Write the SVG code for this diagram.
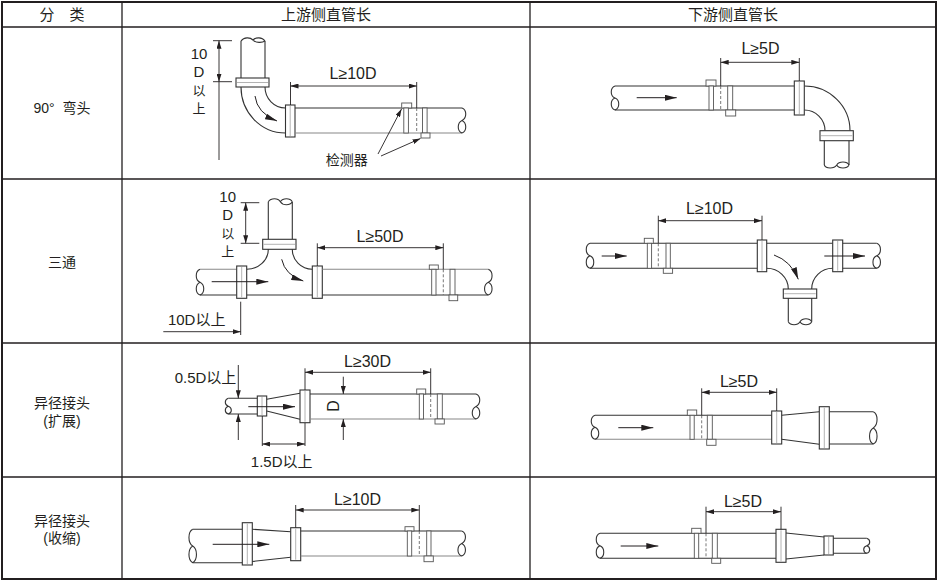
<svg xmlns="http://www.w3.org/2000/svg" width="939" height="582" viewBox="0 0 939 582">
<defs>
<style>
.tb{fill:none;stroke:#231f20;stroke-width:1.3}
.tbo{fill:none;stroke:#231f20;stroke-width:2}
.p{fill:none;stroke:#333;stroke-width:1.1}
.pg{fill:none;stroke:#888;stroke-width:1.1}
.fl{fill:#fff;stroke:#333;stroke-width:1.1}
.fi{fill:none;stroke:#a0a0a0;stroke-width:0.8}
.st{fill:#fff;stroke:#555;stroke-width:0.9}
.dash{fill:none;stroke:#555;stroke-width:0.8;stroke-dasharray:3 2}
.d{fill:none;stroke:#231f20;stroke-width:0.9}
.da{fill:none;stroke:#231f20;stroke-width:0.9;marker-start:url(#ar);marker-end:url(#ar)}
.de{fill:none;stroke:#231f20;stroke-width:0.9;marker-end:url(#ar)}
.fa{fill:none;stroke:#231f20;stroke-width:1;marker-end:url(#fa)}
text{font-family:"Liberation Sans","Noto Sans CJK SC",sans-serif;fill:#231f20;text-anchor:middle}
.zh{font-family:"Noto Sans CJK SC","Liberation Sans",sans-serif}
.h{font-size:15px}
.c{font-size:14px}
.v{font-size:15px}
.vz{font-size:13px}
.m{font-size:16px}
</style>
<marker id="ar" viewBox="0 0 8 5" refX="8" refY="2.5" markerWidth="8" markerHeight="5" markerUnits="userSpaceOnUse" orient="auto-start-reverse"><path d="M0,0 L8,2.5 L0,5 z" fill="#231f20"/></marker>
<marker id="fa" viewBox="0 0 12 6" refX="12" refY="3" markerWidth="12" markerHeight="6" markerUnits="userSpaceOnUse" orient="auto"><path d="M0,0 L12,3 L0,6 z" fill="#231f20"/></marker>
</defs>
<rect width="939" height="582" fill="#fff"/>

<g id="table">
<rect class="tbo" x="2" y="2" width="934" height="577"/>
<path class="tb" d="M2,27 H936 M2,179 H936 M2,343 H936 M2,477 H936 M122,2 V579 M530,2 V579"/>
<text class="h zh" x="62" y="20">分　类</text>
<text class="h zh" x="326" y="20">上游侧直管长</text>
<text class="h zh" x="733" y="20">下游侧直管长</text>
<text class="c" x="62" y="112.5">90°&#160;&#160;弯头</text>
<text class="c zh" x="62" y="267">三通</text>
<text class="c zh" x="62" y="408">异径接头</text>
<text class="c" x="62" y="426">(扩展)</text>
<text class="c zh" x="62" y="526">异径接头</text>
<text class="c" x="62" y="543">(收缩)</text>
</g>

<g id="elbow-up">
<path class="p" d="M241,78 V41 M265,41 V78"/>
<path class="p" d="M241,41 C244,37 250,37 253,40 C256,43 262,43 265,41 M253,40 C256,37 262,37 265,41"/>
<path class="p" d="M241,87 A44.5,46 0 0 0 285.5,133 M265,87 A20.5,21 0 0 0 285.5,108"/>
<rect class="fl" x="236" y="78" width="33" height="9"/><path class="fi" d="M237,82.5 H268"/>
<rect class="fl" x="285.5" y="105" width="9.5" height="32"/><path class="fi" d="M290.2,106 V136"/>
<path class="p" d="M295,108 H462"/><path class="pg" d="M295,133 H462"/>
<path class="p" d="M462,108 C467,110 467,118 462,120.5 C457,123 457,131 462,133 M462,120.5 C467,123 467,131 462,133"/>
<rect class="st" x="401.7" y="103" width="10" height="5"/>
<rect class="st" x="403.8" y="108" width="4.6" height="25"/>
<path class="dash" d="M416.7,108 V133"/>
<rect class="st" x="422.5" y="108" width="4.6" height="25"/>
<rect class="st" x="421" y="133" width="9" height="5"/>
<text class="c zh" x="346.7" y="165">检测器</text>
</g>

<g id="elbow-down">
<path class="p" d="M615,86 H794.3 M615,110 H794.3"/>
<path class="p" d="M615,86 C610,88 610,96 615,98 C620,100 620,108 615,110 M615,98 C610,100 610,108 615,110"/>
<rect class="st" x="706" y="80" width="10" height="6"/>
<rect class="st" x="709" y="86" width="4.5" height="24"/>
<path class="dash" d="M720.7,86 V110"/>
<rect class="st" x="727.7" y="86" width="5" height="24"/>
<rect class="st" x="725.7" y="110" width="10" height="6"/>
<path class="p" d="M804.3,86 A45.7,44.7 0 0 1 850,130.7 M804.3,110 A20.7,20.7 0 0 1 825,130.7"/>
<rect class="fl" x="794.3" y="81" width="10" height="34"/><path class="fi" d="M799.3,82 V114"/>
<rect class="fl" x="820" y="130.7" width="33.3" height="10"/><path class="fi" d="M821,135.7 H852.3"/>
<path class="p" d="M824.3,140.7 V165 M849,140.7 V165"/>
<path class="p" d="M824.3,165 C826,169 834,169 836.7,165 C839,161 847,161 849,165 M836.7,165 C839,169 847,169 849,165"/>
</g>

<g id="tee-up">
<path class="p" d="M268.3,239.3 V201.7 M292.3,201.7 V239.3"/>
<path class="p" d="M268.3,201.7 C271,197.7 278,197.7 280.3,201.7 C283,205.7 290,205.7 292.3,201.7 M280.3,201.7 C283,197.7 290,197.7 292.3,201.7"/>
<rect class="fl" x="262.7" y="239.3" width="33.3" height="10"/><path class="fi" d="M263.7,244.3 H295"/>
<path class="pg" d="M200,269.3 H236.7"/><path class="p" d="M200,295 H236.7"/>
<path class="p" d="M200,269.3 C195,271.3 195,280 200,282.2 C205,284.5 205,293 200,295 M200,282.2 C195,284.5 195,293 200,295"/>
<path class="p" d="M246.7,269.3 A21.6,20 0 0 0 268.3,249.3 M292.3,249.3 A20,20 0 0 0 312.3,269.3 M246.7,295 H312.3"/>
<rect class="fl" x="236.7" y="266" width="10" height="32.3"/><path class="fi" d="M241.7,267 V297.3"/>
<rect class="fl" x="312.3" y="266" width="10" height="32.3"/><path class="fi" d="M317.3,267 V297.3"/>
<path class="pg" d="M322.3,269.3 H488.3"/><path class="p" d="M322.3,295 H488.3"/>
<path class="p" d="M488.3,269.3 C493.3,271.3 493.3,280 488.3,282.2 C483.3,284.5 483.3,293 488.3,295 M488.3,282.2 C493.3,284.5 493.3,293 488.3,295"/>
<rect class="st" x="429.3" y="265" width="9" height="4.3"/>
<rect class="st" x="431.7" y="269.3" width="4.3" height="25.7"/>
<path class="dash" d="M443.3,269.3 V295"/>
<rect class="st" x="450" y="269.3" width="5" height="25.7"/>
<rect class="st" x="449" y="295" width="8.7" height="5.7"/>
</g>

<g id="tee-down">
<path class="p" d="M590,243.3 H757.3 M590,268.3 H757.3"/>
<path class="p" d="M590,243.3 C585,245.3 585,253.5 590,255.8 C595,258 595,266.3 590,268.3 M590,255.8 C585,258 585,266.3 590,268.3"/>
<rect class="st" x="644.3" y="238.3" width="9" height="5"/>
<rect class="st" x="647.3" y="243.3" width="4.3" height="25"/>
<path class="dash" d="M658.3,243.3 V268.3"/>
<rect class="st" x="666" y="243.3" width="4.3" height="25"/>
<rect class="st" x="663.3" y="268.3" width="9.3" height="5"/>
<path class="p" d="M766.7,243.3 H832.7 M766.7,268.3 A21.6,20.7 0 0 1 788.3,289 M832.7,268.3 A21,20.7 0 0 0 811.7,289"/>
<rect class="fl" x="757.3" y="240" width="9.4" height="31.7"/><path class="fi" d="M762,241 V270.7"/>
<rect class="fl" x="783.3" y="289" width="33.4" height="9.3"/><path class="fi" d="M784.3,293.7 H815.7"/>
<path class="p" d="M788.3,298.3 V321.7 M811.7,298.3 V321.7"/>
<path class="p" d="M788.3,321.7 C790.5,325.7 797.5,325.7 800,321.7 C802.5,317.7 809.5,317.7 811.7,321.7 M800,321.7 C802.5,325.7 809.5,325.7 811.7,321.7"/>
<rect class="fl" x="832.7" y="240" width="10" height="31.7"/><path class="fi" d="M837.7,241 V270.7"/>
<path class="p" d="M842.7,243.3 H876.7 M842.7,268.3 H876.7"/>
<path class="p" d="M876.7,243.3 C881.7,245.3 881.7,253.5 876.7,255.8 C871.7,258 871.7,266.3 876.7,268.3 M876.7,255.8 C881.7,258 881.7,266.3 876.7,268.3"/>
</g>

<g id="expander-up">
<path class="p" d="M228.3,398.3 H257.3 M228.3,414 H257.3"/>
<path class="p" d="M228.3,398.3 C224.3,399.5 224.3,405 228.3,406.2 C232.3,407.5 232.3,413 228.3,414 M228.3,406.2 C224.3,407.5 224.3,413 228.3,414"/>
<rect class="fl" x="257.3" y="396" width="9.4" height="20"/><path class="fi" d="M262,397 V415"/>
<path class="p" d="M266.7,399.3 L300,393.3 M266.7,411 L300,419.3"/>
<rect class="fl" x="300" y="390" width="10" height="32.7"/><path class="fi" d="M305,391 V421.7"/>
<path class="p" d="M310,394 H476"/><path class="pg" d="M310,419 H476"/>
<path class="p" d="M476,394 C481,396 481,404 476,406.5 C471,409 471,417 476,419 M476,406.5 C481,409 481,417 476,419"/>
<rect class="st" x="416.7" y="389" width="9" height="5"/>
<rect class="st" x="419.3" y="394" width="4.2" height="25"/>
<path class="dash" d="M430.7,394 V419"/>
<rect class="st" x="437.3" y="394" width="5" height="25"/>
<rect class="st" x="435" y="419" width="9.3" height="5"/>
</g>

<g id="expander-down">
<path class="p" d="M595,415.3 H771.7"/><path class="pg" d="M595,439.3 H771.7"/>
<path class="p" d="M595,415.3 C590,417.3 590,425 595,427.3 C600,429.6 600,437.3 595,439.3 M595,427.3 C590,429.6 590,437.3 595,439.3"/>
<rect class="st" x="687.3" y="410" width="9.4" height="5.3"/>
<rect class="st" x="690" y="415.3" width="4.2" height="24"/>
<path class="dash" d="M701.7,415.3 V439.3"/>
<rect class="st" x="707.3" y="415.3" width="5" height="24"/>
<rect class="st" x="706.7" y="439.3" width="9.3" height="6"/>
<rect class="fl" x="771.7" y="411" width="10" height="33"/><path class="fi" d="M776.7,412 V443"/>
<path class="p" d="M781.7,415.3 L819.3,411.7 M781.7,439.3 L819.3,444.3"/>
<rect class="fl" x="819.3" y="406.7" width="10" height="42.3"/><path class="fi" d="M824.3,407.7 V448"/>
<path class="p" d="M829.3,411.7 H873.3 M829.3,444 H873.3"/>
<path class="p" d="M873.3,411.7 C878.3,414 878.3,425 873.3,427.9 C868.3,430.8 868.3,441.7 873.3,444 M873.3,427.9 C878.3,430.8 878.3,441.7 873.3,444"/>
</g>

<g id="reducer-up">
<path class="p" d="M192.7,529.3 H242.3 M192.7,562.7 H242.3"/>
<path class="p" d="M192.7,529.3 C187.7,532 187.7,543 192.7,546 C197.7,549 197.7,560 192.7,562.7 M192.7,546 C187.7,549 187.7,560 192.7,562.7"/>
<rect class="fl" x="242.3" y="522.7" width="10" height="42.3"/><path class="fi" d="M247.3,523.7 V564"/>
<path class="p" d="M252.3,529.3 L290.7,531.7 M252.3,561.5 L290.7,557.3"/>
<rect class="fl" x="290.7" y="527.7" width="10" height="33"/><path class="fi" d="M295.7,528.7 V559.7"/>
<path class="p" d="M300.7,531 H461.7"/><path class="pg" d="M300.7,556 H461.7"/>
<path class="p" d="M461.7,531 C466.7,533 466.7,541 461.7,543.5 C456.7,546 456.7,554 461.7,556 M461.7,543.5 C466.7,546 466.7,554 461.7,556"/>
<rect class="st" x="405" y="526.7" width="9" height="4.3"/>
<rect class="st" x="407.3" y="531" width="4.4" height="25"/>
<path class="dash" d="M419.3,531 V556"/>
<rect class="st" x="426.7" y="531" width="4.3" height="25"/>
<rect class="st" x="424" y="556" width="9.3" height="5.7"/>
</g>

<g id="reducer-down">
<path class="p" d="M600,533.3 H776 M600,558.3 H776"/>
<path class="p" d="M600,533.3 C595,535.3 595,543.5 600,545.8 C605,548 605,556.3 600,558.3 M600,545.8 C595,548 595,556.3 600,558.3"/>
<rect class="st" x="691.7" y="528.3" width="9.3" height="5"/>
<rect class="st" x="694.3" y="533.3" width="4.4" height="25"/>
<path class="dash" d="M706,533.3 V558.3"/>
<rect class="st" x="712.3" y="533.3" width="5" height="25"/>
<rect class="st" x="711.7" y="558.3" width="9" height="5"/>
<rect class="fl" x="776" y="529.3" width="10" height="33"/><path class="fi" d="M781,530.3 V561.3"/>
<path class="p" d="M786,533 L824,537 M786,559 L824,555"/>
<rect class="fl" x="824" y="536" width="9.3" height="19"/><path class="fi" d="M828.7,537 V554"/>
<path class="p" d="M833.3,538.3 H866.7 M833.3,553.3 H866.7"/>
<path class="p" d="M866.7,538.3 C870.7,539.5 870.7,544.6 866.7,545.8 C862.7,547 862.7,552.1 866.7,553.3 M866.7,545.8 C870.7,547 870.7,552.1 866.7,553.3"/>
</g>

<g id="connectors">
<path class="d" d="M290.5,82 V105 M416.7,82 V108"/>
<path class="da" d="M290.5,86 H416.7"/>
<text class="m" x="353" y="79">L≥10D</text>
<path class="d" d="M213,40.7 H232 M213,81.7 H232 M219,81.7 V160"/>
<path class="da" d="M219,40.7 V81.7"/>
<text class="v" x="199" y="59">10</text>
<text class="v" x="199" y="77">D</text>
<text class="vz zh" x="199" y="95">以</text>
<text class="vz zh" x="199" y="112.5">上</text>
<path class="fa" d="M255,96 Q257,113 277,121"/>
<path class="de" d="M378,154 L401.5,109"/>
<path class="de" d="M381,156 L420.5,138.5"/>

<path class="d" d="M720.7,58 V86 M799.3,58 V81"/>
<path class="da" d="M720.7,62.3 H799.3"/>
<text class="m" x="760.5" y="54">L≥5D</text>
<path class="fa" d="M636.7,97.7 H676.7"/>

<path class="d" d="M317.3,243.3 V266 M443.3,243.3 V269.3"/>
<path class="da" d="M317.3,247.7 H443.3"/>
<text class="m" x="380" y="241.5">L≥50D</text>
<path class="d" d="M240.7,202.7 H259.3 M240.7,243.3 H259.3"/>
<path class="da" d="M245.7,202.7 V243.3"/>
<text class="v" x="227.7" y="201.5">10</text>
<text class="v" x="227.7" y="219.5">D</text>
<text class="vz zh" x="227.7" y="238">以</text>
<text class="vz zh" x="227.7" y="255.5">上</text>
<path class="d" d="M240.7,301.7 V335"/>
<path class="de" d="M163.3,331.7 H240.7"/>
<text class="v" x="196.7" y="325">10D以上</text>
<path class="fa" d="M211.7,281.7 H268.3"/>
<path class="fa" d="M281.7,259.3 Q285,275 303.3,281"/>

<path class="d" d="M658.3,215.7 V243.3 M762,215.7 V240"/>
<path class="da" d="M658.3,220.7 H762"/>
<text class="m" x="709.5" y="214">L≥10D</text>
<path class="fa" d="M601.7,256 H626.7"/>
<path class="fa" d="M774,255 Q791,261 798.3,279.3"/>
<path class="fa" d="M824.3,256 H865"/>

<path class="d" d="M305,368.3 V390 M430.7,368.3 V394"/>
<path class="da" d="M305,372.3 H430.7"/>
<text class="m" x="367.5" y="366.5">L≥30D</text>
<path class="de" d="M343.3,376.7 V394"/>
<path class="de" d="M343.3,440 V419"/>
<text class="m" transform="translate(338.5,406) rotate(-90)">D</text>
<path class="de" d="M238.3,365 V398.3"/>
<path class="de" d="M238.3,440 V414"/>
<text class="v" x="205.5" y="382.5">0.5D以上</text>
<path class="d" d="M262.3,416 V446 M305,423 V446"/>
<path class="da" d="M262.3,444 H305"/>
<text class="v" x="281.7" y="466.5">1.5D以上</text>
<path class="fa" d="M248.3,406.7 H295"/>

<path class="d" d="M701.7,388.3 V415.3 M776.7,388.3 V411"/>
<path class="da" d="M701.7,392.3 H776.7"/>
<text class="m" x="739" y="386.5">L≥5D</text>
<path class="fa" d="M618.3,427.7 H653.3"/>

<path class="d" d="M295.7,505 V527.7 M419.3,505 V531"/>
<path class="da" d="M295.7,510 H419.3"/>
<text class="m" x="357.5" y="505">L≥10D</text>
<path class="fa" d="M212.7,544.3 H269.3"/>

<path class="d" d="M706,506.7 V533.3 M781,506.7 V529.3"/>
<path class="da" d="M706,511.7 H781"/>
<text class="m" x="743" y="506.5">L≥5D</text>
<path class="fa" d="M620.7,546 H658.3"/>
</g>
</svg>
